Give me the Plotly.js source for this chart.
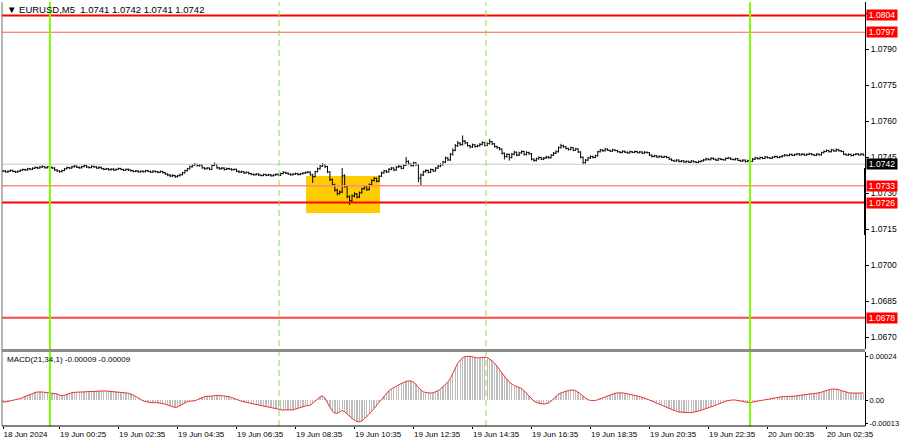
<!DOCTYPE html>
<html><head><meta charset="utf-8">
<script src="https://cdn.plot.ly/plotly-3.0.1.min.js"></script>
<style>html,body{margin:0;padding:0;background:#fff}#chart{width:900px;height:441px}</style>
</head><body><div id="chart"></div>
<script>
const symbol = 'EURUSD,M5';
const lastQuote = ['1.0741', '1.0742', '1.0741', '1.0742'];
const macdName = 'MACD(21,34,1)';
const macdLast = ['-0.00009', '-0.00009'];

const opens = [
1.07390,1.07392,1.07388,1.07391,1.07394,1.07390,1.07387,
1.07391,1.07395,1.07398,1.07396,1.07401,1.07399,
1.07403,1.07406,1.07404,1.07408,1.07410,1.07405,1.07409,1.07407,
1.07404,1.07396,1.07392,1.07389,
1.07394,1.07401,1.07406,1.07404,1.07409,1.07412,1.07407,1.07405,1.07410,1.07414,1.07408,1.07406,1.07411,1.07409,1.07404,1.07407,
1.07402,1.07399,1.07401,1.07397,1.07400,1.07396,1.07399,1.07402,1.07398,1.07395,1.07399,1.07396,
1.07393,1.07390,1.07392,1.07388,1.07391,1.07389,1.07393,1.07390,
1.07387,1.07391,1.07389,1.07386,1.07390,
1.07385,1.07379,1.07375,1.07371,1.07373,1.07368,1.07372,
1.07376,1.07384,1.07393,1.07401,
1.07409,1.07416,1.07419,1.07414,
1.07417,1.07405,1.07401,1.07404,
1.07399,1.07415,
1.07419,1.07405,1.07401,1.07404,1.07398,1.07402,1.07400,1.07397,
1.07399,1.07391,1.07387,1.07389,1.07384,
1.07386,1.07381,1.07378,1.07376,1.07379,1.07375,1.07373,1.07377,1.07374,1.07376,1.07372,1.07375,1.07378,
1.07374,1.07381,1.07386,1.07383,
1.07379,1.07376,1.07379,1.07381,1.07377,1.07380,1.07383,1.07385,
1.07387,1.07376,1.07368,
1.07389,1.07401,1.07412,1.07418,
1.07410,1.07388,1.07356,1.07334,1.07312,1.07298,
1.07304,1.07372,1.07328,1.07285,
1.07268,1.07288,1.07296,1.07283,
1.07301,1.07318,1.07326,1.07314,
1.07335,1.07352,1.07361,1.07349,
1.07370,1.07384,1.07392,1.07388,
1.07399,1.07404,1.07396,1.07408,1.07411,1.07403,
1.07416,
1.07432,1.07421,1.07414,1.07426,
1.07418,1.07362,
1.07375,1.07389,1.07394,1.07386,1.07398,
1.07392,1.07404,1.07412,
1.07418,1.07429,1.07446,1.07438,1.07461,
1.07478,1.07497,1.07508,1.07502,1.07516,
1.07509,1.07498,1.07492,1.07501,1.07494,
1.07497,1.07503,1.07510,1.07498,1.07506,1.07514,
1.07505,1.07494,1.07489,
1.07483,1.07466,1.07452,1.07461,
1.07448,1.07462,1.07470,1.07458,1.07467,1.07473,1.07461,1.07469,
1.07464,1.07441,
1.07436,1.07443,1.07448,1.07441,1.07446,1.07450,
1.07447,1.07458,1.07466,
1.07472,1.07489,1.07497,
1.07493,1.07486,1.07481,1.07489,1.07478,
1.07484,
1.07471,1.07449,1.07426,
1.07437,1.07446,1.07452,1.07448,
1.07455,1.07472,1.07479,1.07476,1.07483,1.07478,1.07474,1.07480,
1.07477,1.07472,1.07469,1.07474,1.07470,1.07467,1.07472,1.07469,1.07473,1.07468,1.07471,1.07466,1.07470,
1.07468,1.07458,1.07452,1.07455,1.07450,1.07453,1.07449,1.07452,
1.07448,1.07441,1.07436,1.07433,1.07437,1.07431,1.07434,1.07429,1.07432,1.07428,1.07433,1.07430,1.07427,1.07431,
1.07434,1.07438,1.07442,1.07439,1.07445,1.07441,1.07437,1.07443,1.07440,1.07438,1.07444,1.07446,1.07441,1.07439,
1.07443,1.07436,1.07433,1.07437,1.07431,1.07435,
1.07432,1.07441,1.07446,1.07443,1.07448,1.07444,1.07450,1.07447,1.07445,1.07449,1.07452,1.07448,
1.07451,1.07455,1.07458,1.07456,1.07461,1.07457,1.07460,1.07463,1.07459,1.07462,1.07458,1.07461,1.07464,1.07460,1.07457,1.07462,
1.07459,1.07468,1.07473,1.07477,1.07472,1.07479,1.07475,1.07481,1.07476,
1.07473,1.07462,1.07458,1.07461,1.07456,1.07460,1.07463,1.07459,1.07462
];

const highs = [
1.07396,1.07395,1.07394,1.07398,1.07397,1.07393,1.07394,
1.07398,1.07402,1.07401,1.07405,1.07404,1.07407,
1.07411,1.07410,1.07413,1.07415,1.07413,1.07412,1.07413,1.07410,
1.07407,1.07399,1.07395,1.07397,
1.07404,1.07410,1.07409,1.07413,1.07417,1.07415,1.07411,1.07414,1.07419,1.07417,1.07411,1.07415,1.07414,1.07412,1.07411,1.07410,
1.07405,1.07405,1.07404,1.07403,1.07403,1.07402,1.07406,1.07405,1.07401,1.07402,1.07402,1.07399,
1.07396,1.07396,1.07395,1.07394,1.07394,1.07397,1.07396,1.07393,
1.07395,1.07394,1.07392,1.07394,1.07393,
1.07388,1.07382,1.07379,1.07378,1.07376,1.07376,1.07381,
1.07388,1.07397,1.07405,1.07414,
1.07421,1.07425,1.07422,1.07421,
1.07419,1.07408,1.07408,1.07407,
1.07419,1.07427,
1.07422,1.07408,1.07408,1.07407,1.07406,1.07405,1.07403,1.07402,
1.07401,1.07394,1.07393,1.07392,1.07390,
1.07389,1.07384,1.07381,1.07383,1.07382,1.07378,1.07381,1.07380,1.07380,1.07379,1.07378,1.07382,1.07381,
1.07385,1.07391,1.07389,1.07386,
1.07382,1.07383,1.07385,1.07384,1.07384,1.07387,1.07390,1.07392,
1.07390,1.07380,1.07393,
1.07406,1.07417,1.07425,1.07421,
1.07413,1.07391,1.07360,1.07339,1.07318,1.07311,
1.07404,1.07378,1.07333,1.07290,
1.07294,1.07303,1.07300,1.07306,
1.07322,1.07332,1.07330,1.07340,
1.07357,1.07367,1.07364,1.07374,
1.07389,1.07397,1.07396,1.07404,
1.07409,1.07407,1.07412,1.07417,1.07414,1.07421,
1.07450,
1.07436,1.07424,1.07430,1.07429,
1.07420,1.07381,
1.07393,1.07399,1.07397,1.07402,1.07401,
1.07408,1.07417,1.07424,
1.07434,1.07452,1.07450,1.07467,1.07486,
1.07504,1.07517,1.07512,1.07540,1.07521,
1.07512,1.07501,1.07506,1.07504,1.07502,
1.07508,1.07516,1.07513,1.07511,1.07525,1.07517,
1.07508,1.07497,1.07492,
1.07486,1.07469,1.07466,1.07464,
1.07467,1.07476,1.07473,1.07472,1.07478,1.07476,1.07474,1.07472,
1.07467,1.07445,
1.07447,1.07453,1.07451,1.07450,1.07455,1.07454,
1.07462,1.07471,1.07478,
1.07494,1.07505,1.07501,
1.07496,1.07489,1.07493,1.07491,1.07488,
1.07486,
1.07474,1.07452,1.07442,
1.07451,1.07457,1.07456,1.07460,
1.07476,1.07484,1.07482,1.07487,1.07486,1.07481,1.07484,1.07482,
1.07480,1.07475,1.07478,1.07477,1.07473,1.07476,1.07475,1.07477,1.07476,1.07475,1.07474,1.07474,1.07473,
1.07470,1.07461,1.07459,1.07458,1.07457,1.07456,1.07456,1.07455,
1.07451,1.07444,1.07439,1.07441,1.07440,1.07438,1.07437,1.07436,1.07435,1.07437,1.07436,1.07433,1.07435,1.07438,
1.07442,1.07447,1.07445,1.07449,1.07448,1.07444,1.07447,1.07446,1.07443,1.07448,1.07451,1.07449,1.07444,1.07447,
1.07446,1.07439,1.07441,1.07440,1.07439,1.07438,
1.07446,1.07451,1.07449,1.07452,1.07451,1.07454,1.07453,1.07450,1.07453,1.07456,1.07455,1.07455,
1.07459,1.07462,1.07461,1.07465,1.07464,1.07464,1.07467,1.07466,1.07466,1.07465,1.07465,1.07468,1.07467,1.07463,1.07466,1.07465,
1.07472,1.07478,1.07482,1.07480,1.07484,1.07482,1.07486,1.07484,1.07479,
1.07476,1.07465,1.07465,1.07464,1.07464,1.07467,1.07466,1.07466,1.07465
];

const lows = [
1.07387,1.07385,1.07384,1.07388,1.07387,1.07383,1.07384,
1.07388,1.07392,1.07392,1.07393,1.07395,1.07396,
1.07400,1.07400,1.07401,1.07405,1.07402,1.07402,1.07403,1.07400,
1.07392,1.07388,1.07385,1.07386,
1.07391,1.07398,1.07400,1.07401,1.07406,1.07404,1.07401,1.07402,1.07407,1.07405,1.07402,1.07403,1.07405,1.07401,1.07400,1.07398,
1.07395,1.07396,1.07393,1.07394,1.07392,1.07393,1.07396,1.07395,1.07391,1.07392,1.07392,1.07389,
1.07386,1.07387,1.07384,1.07385,1.07385,1.07386,1.07387,1.07383,
1.07384,1.07385,1.07382,1.07383,1.07381,
1.07375,1.07370,1.07366,1.07367,1.07363,1.07365,1.07369,
1.07373,1.07381,1.07390,1.07398,
1.07406,1.07413,1.07410,1.07410,
1.07401,1.07397,1.07398,1.07395,
1.07396,1.07412,
1.07401,1.07397,1.07398,1.07394,1.07395,1.07396,1.07393,1.07394,
1.07387,1.07383,1.07384,1.07380,1.07381,
1.07377,1.07374,1.07372,1.07373,1.07371,1.07369,1.07370,1.07370,1.07371,1.07368,1.07369,1.07372,1.07370,
1.07371,1.07378,1.07379,1.07375,
1.07372,1.07373,1.07376,1.07373,1.07374,1.07377,1.07380,1.07382,
1.07372,1.07342,1.07365,
1.07386,1.07398,1.07409,1.07404,
1.07383,1.07350,1.07328,1.07306,1.07290,1.07293,
1.07300,1.07322,1.07278,1.07250,
1.07262,1.07282,1.07277,1.07279,
1.07297,1.07313,1.07309,1.07311,
1.07331,1.07348,1.07345,1.07346,
1.07367,1.07380,1.07383,1.07385,
1.07395,1.07391,1.07393,1.07405,1.07399,1.07400,
1.07413,
1.07416,1.07410,1.07411,1.07413,
1.07345,1.07333,
1.07371,1.07385,1.07382,1.07383,1.07388,
1.07389,1.07400,1.07408,
1.07414,1.07425,1.07433,1.07434,1.07456,
1.07474,1.07492,1.07496,1.07498,1.07503,
1.07493,1.07486,1.07488,1.07489,1.07490,
1.07493,1.07499,1.07494,1.07495,1.07502,1.07500,
1.07489,1.07484,1.07478,
1.07460,1.07440,1.07447,1.07435,
1.07444,1.07457,1.07453,1.07454,1.07463,1.07456,1.07457,1.07459,
1.07436,1.07430,
1.07432,1.07439,1.07437,1.07437,1.07442,1.07443,
1.07444,1.07454,1.07462,
1.07469,1.07485,1.07488,
1.07482,1.07477,1.07478,1.07474,1.07475,
1.07467,
1.07444,1.07418,1.07422,
1.07433,1.07442,1.07444,1.07445,
1.07452,1.07469,1.07472,1.07473,1.07475,1.07471,1.07472,1.07474,
1.07469,1.07465,1.07466,1.07467,1.07464,1.07464,1.07466,1.07466,1.07465,1.07465,1.07463,1.07463,1.07465,
1.07454,1.07448,1.07449,1.07447,1.07447,1.07446,1.07446,1.07445,
1.07438,1.07433,1.07430,1.07430,1.07428,1.07428,1.07426,1.07426,1.07425,1.07425,1.07427,1.07424,1.07424,1.07428,
1.07431,1.07435,1.07436,1.07436,1.07438,1.07434,1.07434,1.07437,1.07435,1.07435,1.07441,1.07438,1.07436,1.07436,
1.07433,1.07430,1.07430,1.07427,1.07428,1.07429,
1.07429,1.07438,1.07440,1.07440,1.07441,1.07441,1.07444,1.07442,1.07442,1.07446,1.07445,1.07445,
1.07448,1.07452,1.07453,1.07453,1.07454,1.07454,1.07457,1.07456,1.07456,1.07455,1.07455,1.07458,1.07457,1.07454,1.07454,1.07456,
1.07456,1.07465,1.07470,1.07469,1.07469,1.07472,1.07472,1.07473,1.07470,
1.07458,1.07455,1.07455,1.07453,1.07453,1.07457,1.07456,1.07456,1.07455
];

const closes = [
1.07392,1.07388,1.07391,1.07394,1.07390,1.07387,1.07391,
1.07395,1.07398,1.07396,1.07401,1.07399,1.07403,
1.07406,1.07404,1.07408,1.07410,1.07405,1.07409,1.07407,1.07404,
1.07396,1.07392,1.07389,1.07394,
1.07401,1.07406,1.07404,1.07409,1.07412,1.07407,1.07405,1.07410,1.07414,1.07408,1.07406,1.07411,1.07409,1.07404,1.07407,1.07402,
1.07399,1.07401,1.07397,1.07400,1.07396,1.07399,1.07402,1.07398,1.07395,1.07399,1.07396,1.07393,
1.07390,1.07392,1.07388,1.07391,1.07389,1.07393,1.07390,1.07387,
1.07391,1.07389,1.07386,1.07390,1.07385,
1.07379,1.07375,1.07371,1.07373,1.07368,1.07372,1.07376,
1.07384,1.07393,1.07401,1.07409,
1.07416,1.07419,1.07414,1.07417,
1.07405,1.07401,1.07404,1.07399,
1.07415,1.07419,
1.07405,1.07401,1.07404,1.07398,1.07402,1.07400,1.07397,1.07399,
1.07391,1.07387,1.07389,1.07384,1.07386,
1.07381,1.07378,1.07376,1.07379,1.07375,1.07373,1.07377,1.07374,1.07376,1.07372,1.07375,1.07378,1.07374,
1.07381,1.07386,1.07383,1.07379,
1.07376,1.07379,1.07381,1.07377,1.07380,1.07383,1.07385,1.07387,
1.07376,1.07368,1.07389,
1.07401,1.07412,1.07418,1.07410,
1.07388,1.07356,1.07334,1.07312,1.07298,1.07304,
1.07372,1.07328,1.07285,1.07268,
1.07288,1.07296,1.07283,1.07301,
1.07318,1.07326,1.07314,1.07335,
1.07352,1.07361,1.07349,1.07370,
1.07384,1.07392,1.07388,1.07399,
1.07404,1.07396,1.07408,1.07411,1.07403,1.07416,
1.07432,
1.07421,1.07414,1.07426,1.07418,
1.07362,1.07375,
1.07389,1.07394,1.07386,1.07398,1.07392,
1.07404,1.07412,1.07418,
1.07429,1.07446,1.07438,1.07461,1.07478,
1.07497,1.07508,1.07502,1.07516,1.07509,
1.07498,1.07492,1.07501,1.07494,1.07497,
1.07503,1.07510,1.07498,1.07506,1.07514,1.07505,
1.07494,1.07489,1.07483,
1.07466,1.07452,1.07461,1.07448,
1.07462,1.07470,1.07458,1.07467,1.07473,1.07461,1.07469,1.07464,
1.07441,1.07436,
1.07443,1.07448,1.07441,1.07446,1.07450,1.07447,
1.07458,1.07466,1.07472,
1.07489,1.07497,1.07493,
1.07486,1.07481,1.07489,1.07478,1.07484,
1.07471,
1.07449,1.07426,1.07437,
1.07446,1.07452,1.07448,1.07455,
1.07472,1.07479,1.07476,1.07483,1.07478,1.07474,1.07480,1.07477,
1.07472,1.07469,1.07474,1.07470,1.07467,1.07472,1.07469,1.07473,1.07468,1.07471,1.07466,1.07470,1.07468,
1.07458,1.07452,1.07455,1.07450,1.07453,1.07449,1.07452,1.07448,
1.07441,1.07436,1.07433,1.07437,1.07431,1.07434,1.07429,1.07432,1.07428,1.07433,1.07430,1.07427,1.07431,1.07434,
1.07438,1.07442,1.07439,1.07445,1.07441,1.07437,1.07443,1.07440,1.07438,1.07444,1.07446,1.07441,1.07439,1.07443,
1.07436,1.07433,1.07437,1.07431,1.07435,1.07432,
1.07441,1.07446,1.07443,1.07448,1.07444,1.07450,1.07447,1.07445,1.07449,1.07452,1.07448,1.07451,
1.07455,1.07458,1.07456,1.07461,1.07457,1.07460,1.07463,1.07459,1.07462,1.07458,1.07461,1.07464,1.07460,1.07457,1.07462,1.07459,
1.07468,1.07473,1.07477,1.07472,1.07479,1.07475,1.07481,1.07476,1.07473,
1.07462,1.07458,1.07461,1.07456,1.07460,1.07463,1.07459,1.07462,1.07458
];

const macdMain = [
-0.000012,-0.000011,-0.000008,
-0.000004,-0.000001,0.000001,0.000003,
0.000008,0.000014,0.000020,0.000026,0.000031,0.000036,
0.000042,0.000045,0.000046,0.000045,
0.000043,0.000041,0.000040,0.000039,0.000038,0.000034,
0.000028,0.000024,0.000027,
0.000033,0.000038,0.000041,0.000043,0.000044,0.000043,0.000044,0.000045,0.000046,
0.000048,0.000049,0.000050,0.000051,0.000051,0.000050,0.000051,0.000050,0.000049,0.000050,0.000049,
0.000047,0.000045,0.000043,0.000042,0.000040,0.000038,0.000035,
0.000028,0.000020,0.000011,0.000003,
-0.000004,-0.000009,-0.000012,-0.000014,-0.000015,-0.000014,-0.000015,-0.000017,-0.000019,-0.000023,-0.000028,
-0.000034,-0.000039,-0.000041,-0.000038,
-0.000031,-0.000022,-0.000014,-0.000009,
-0.000006,-0.000005,-0.000004,0.000002,0.000009,
0.000015,0.000019,0.000021,0.000020,
0.000022,0.000025,0.000027,0.000026,0.000024,0.000023,0.000022,0.000019,
0.000014,0.000008,0.000003,-0.000002,
-0.000006,-0.000010,-0.000013,-0.000016,-0.000019,-0.000022,-0.000025,-0.000028,-0.000031,-0.000034,-0.000037,-0.000040,-0.000043,-0.000046,-0.000049,
-0.000052,-0.000054,-0.000056,-0.000055,-0.000056,-0.000055,-0.000054,
-0.000050,-0.000045,-0.000040,-0.000036,-0.000033,-0.000031,-0.000028,
-0.000018,-0.000005,0.000008,0.000018,0.000023,
0.000010,-0.000015,-0.000040,-0.000062,-0.000072,-0.000074,-0.000066,-0.000058,
-0.000065,-0.000078,-0.000092,-0.000104,-0.000113,-0.000119,-0.000121,
-0.000116,-0.000105,-0.000092,-0.000078,-0.000062,-0.000046,-0.000030,-0.000012,
0.000005,0.000022,0.000038,0.000052,0.000062,0.000068,
0.000077,0.000085,0.000092,0.000098,
0.000104,0.000107,0.000106,0.000100,0.000088,
0.000070,0.000056,0.000046,
0.000042,0.000040,0.000039,0.000041,0.000045,0.000052,
0.000062,0.000074,0.000086,0.000100,0.000120,
0.000150,0.000180,0.000205,0.000222,
0.000235,0.000242,0.000244,0.000243,0.000240,
0.000236,0.000234,0.000235,0.000237,0.000238,0.000236,
0.000228,0.000218,0.000205,0.000190,
0.000170,0.000150,0.000130,0.000115,
0.000100,0.000088,0.000080,0.000075,0.000070,0.000064,
0.000052,0.000036,0.000020,0.000006,-0.000006,
-0.000014,-0.000018,-0.000021,-0.000022,-0.000020,-0.000016,
-0.000006,0.000008,0.000022,0.000033,
0.000040,0.000045,0.000049,0.000053,0.000055,0.000056,0.000052,
0.000045,0.000035,0.000022,
0.000010,0.000002,-0.000002,-0.000004,
-0.000002,0.000002,0.000007,0.000012,0.000018,0.000024,
0.000030,0.000035,0.000038,0.000040,0.000041,0.000040,0.000038,0.000036,
0.000033,0.000029,0.000026,0.000023,0.000020,0.000016,0.000011,0.000006,
0.000000,-0.000006,-0.000012,-0.000018,-0.000024,
-0.000030,-0.000036,-0.000042,-0.000048,-0.000054,-0.000059,-0.000063,-0.000066,-0.000068,-0.000070,
-0.000071,-0.000070,-0.000070,-0.000068,
-0.000065,-0.000061,-0.000057,-0.000053,-0.000048,-0.000043,-0.000038,-0.000033,-0.000028,-0.000022,-0.000017,-0.000012,-0.000007,-0.000003,
0.000000,0.000001,0.000000,-0.000003,-0.000006,
-0.000010,-0.000013,-0.000015,-0.000015,-0.000012,
-0.000008,-0.000005,-0.000003,-0.000001,0.000002,0.000005,0.000008,
0.000011,0.000014,0.000016,0.000018,0.000019,0.000020,0.000019,0.000020,0.000021,0.000022,0.000024,0.000027,0.000030,
0.000033,0.000035,0.000037,0.000038,0.000037,0.000038,0.000040,0.000044,0.000049,
0.000054,0.000058,0.000061,0.000062,0.000061,0.000058,0.000053,
0.000048,0.000044,0.000041,0.000039,0.000038,0.000038,0.000037,0.000039,0.000041
];
// MACD(21,34,1): signal period 1 -> signal equals main line
const macdSignal = macdMain;

const timeLabels = ['18 Jun 2024','19 Jun 00:25','19 Jun 02:35','19 Jun 04:35','19 Jun 06:35','19 Jun 08:35','19 Jun 10:35','19 Jun 12:35','19 Jun 14:35','19 Jun 16:35','19 Jun 18:35','19 Jun 20:35','19 Jun 22:35','20 Jun 00:35','20 Jun 02:35'];
const timeLabelBars = [0,23,47,71,95,119,143,167,191,215,239,263,287,311,335];
const priceTicks = [1.0670,1.0685,1.0700,1.0715,1.0730,1.0745,1.0760,1.0775,1.0790,1.0805];
const macdTicks = [0.00024, 0, -0.00013];
const macdTickText = ['0.00024','0.00','-0.00013'];

const levels = [1.0804, 1.0797, 1.0733, 1.0726, 1.0678];
const levelColors = ['#ff0000', '#ff5a5a', '#ff8a8a', '#ff0000', '#ff4646'];
const levelWidths = [2, 1, 1.5, 2, 2];
const bidPrice = 1.0742;
const zoneBars = [123.3, 153.4];
const zonePrices = [1.07217, 1.07371];
const solidLineBars = [19.1, 303.9];
const dashLineBars = [112.3, 196.5];
const scaleMarker = [1.07125, 1.07404];

const idx = closes.map((_, i) => i);
const FONT = 'Liberation Sans, Arial, sans-serif';

const traces = [
  {type:'ohlc', x:idx, open:opens, high:highs, low:lows, close:closes, xaxis:'x', yaxis:'y',
   increasing:{line:{color:'#000000', width:1}}, decreasing:{line:{color:'#000000', width:1}},
   tickwidth:0.5, hoverinfo:'skip'},
  {type:'bar', x:idx, y:macdMain, xaxis:'x2', yaxis:'y2', width:0.55,
   marker:{color:'#bdbdbd', line:{width:0}}, hoverinfo:'skip'},
  {type:'scatter', mode:'lines', x:idx, y:macdSignal, xaxis:'x2', yaxis:'y2',
   line:{color:'#f03232', width:1}, hoverinfo:'skip'}
];

const shapes = [];
shapes.push({type:'rect', xref:'x', yref:'y', x0:zoneBars[0], x1:zoneBars[1], y0:zonePrices[0], y1:zonePrices[1],
  fillcolor:'#ffcc00', line:{width:0}, layer:'below'});
shapes.push({type:'line', xref:'paper', yref:'y', x0:0, x1:1, y0:bidPrice, y1:bidPrice, line:{color:'#c8c8c8', width:1}});
levels.forEach((lv, k) => shapes.push({type:'line', xref:'paper', yref:'y', x0:0, x1:1, y0:lv, y1:lv,
  line:{color:levelColors[k], width:levelWidths[k]}}));
solidLineBars.forEach(b => shapes.push({type:'line', xref:'x', yref:'paper', x0:b, x1:b, y0:0, y1:1,
  line:{color:'#7cfc00', width:2}}));
dashLineBars.forEach(b => shapes.push({type:'line', xref:'x', yref:'paper', x0:b, x1:b, y0:0, y1:1,
  line:{color:'#8ae046', width:1, dash:'6px,4px'}}));
// frame
shapes.push({type:'line', xref:'paper', yref:'paper', x0:0, x1:0, y0:0, y1:1, line:{color:'#6e6e6e', width:1}});
shapes.push({type:'rect', xref:'paper', yref:'paper', x0:0, x1:1, y0:0.1745, y1:0.1816, fillcolor:'#8c8c8c', line:{width:0}});
shapes.push({type:'line', xref:'paper', yref:'paper', x0:0, x1:1, y0:0, y1:0, line:{color:'#000', width:1}});
shapes.push({type:'line', xref:'paper', yref:'y', x0:1, x1:1, y0:scaleMarker[0], y1:scaleMarker[1], line:{color:'#000', width:2}});

const annotations = [];
annotations.push({xref:'paper', yref:'paper', x:0, y:1, xanchor:'left', yanchor:'top', xshift:3, yshift:0,
  text:'\u25BC ' + symbol + '  ' + lastQuote.join(' '), showarrow:false, font:{family:FONT, size:9.5, color:'#000'}});
annotations.push({xref:'paper', yref:'paper', x:0, y:0.1745, xanchor:'left', yanchor:'top', xshift:3, yshift:-1,
  text:macdName + ' ' + macdLast.join(' '), showarrow:false, font:{family:FONT, size:8, color:'#000'}});
levels.forEach(lv => annotations.push({xref:'paper', yref:'y', x:1, y:lv, xanchor:'left', yanchor:'middle', xshift:1,
  text:lv.toFixed(4), showarrow:false, bgcolor:'#ff0000', borderpad:0, width:30, height:10,
  font:{family:FONT, size:8.5, color:'#fff'}}));
annotations.push({xref:'paper', yref:'y', x:1, y:bidPrice, xanchor:'left', yanchor:'middle', xshift:1,
  text:bidPrice.toFixed(4), showarrow:false, bgcolor:'#000000', borderpad:0, width:30, height:10,
  font:{family:FONT, size:8.5, color:'#fff'}});

const xr = [-0.41, 350.7];
const layout = {
  width:900, height:441,
  margin:{l:2, r:35, t:2, b:15, pad:0},
  paper_bgcolor:'#ffffff', plot_bgcolor:'#ffffff',
  showlegend:false, bargap:0,
  font:{family:FONT, size:8.5, color:'#000'},
  xaxis:{domain:[0,1], range:xr, anchor:'y', showticklabels:false, ticks:'', showgrid:false, zeroline:false,
         showline:false, rangeslider:{visible:false}, fixedrange:true},
  yaxis:{domain:[0.1816,1], range:[1.0665,1.08096], side:'right', anchor:'x', tickvals:priceTicks, tickformat:'.4f',
         ticks:'outside', ticklen:3, tickcolor:'#000', showline:true, linecolor:'#000', linewidth:1,
         showgrid:false, zeroline:false, tickfont:{family:FONT, size:8.5, color:'#000'}, fixedrange:true},
  xaxis2:{domain:[0,1], range:xr, anchor:'y2', tickvals:timeLabelBars, ticktext:timeLabels, ticks:'outside', ticklen:2,
          tickcolor:'#000', tickangle:0, ticklabelposition:'outside right', showline:false, showgrid:false, zeroline:false,
          tickfont:{family:FONT, size:8, color:'#000'}, fixedrange:true},
  yaxis2:{domain:[0,0.1745], range:[-0.000144,0.000267], side:'right', anchor:'x2', tickvals:macdTicks, ticktext:macdTickText,
          ticks:'outside', ticklen:2, tickcolor:'#000', showline:true, linecolor:'#000', linewidth:1,
          showgrid:false, zeroline:false, tickfont:{family:FONT, size:7.5, color:'#000'}, fixedrange:true},
  shapes:shapes, annotations:annotations
};

Plotly.newPlot('chart', traces, layout, {staticPlot:true, displayModeBar:false});
</script>
</body></html>
